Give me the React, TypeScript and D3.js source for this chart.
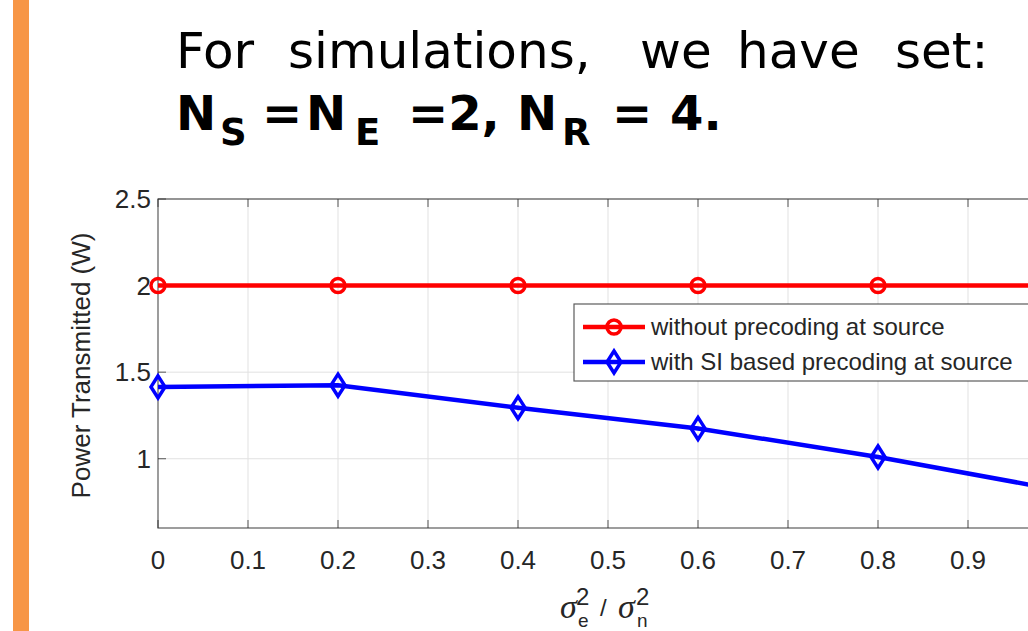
import React, { useEffect, useRef } from 'react';
import * as d3 from 'd3';

// values
const xValues = [0, 0.2, 0.4, 0.6, 0.8, 1.0];
const withoutPrecoding = [2, 2, 2, 2, 2, 2];
const withSIPrecoding = [1.415, 1.425, 1.295, 1.175, 1.01, 0.82];
const xTicks = [0, 0.1, 0.2, 0.3, 0.4, 0.5, 0.6, 0.7, 0.8, 0.9, 1];
const yTicks = [1, 1.5, 2, 2.5];
const seriesNames = ['without precoding at source', 'with SI based precoding at source'];

const W = 1028;
const H = 631;

const Chart = () => {
  const ref = useRef<SVGSVGElement>(null);

  useEffect(() => {
    const svg = d3.select(ref.current);
    svg.selectAll('*').remove();
    svg.attr('width', W).attr('height', H);

    svg.append('rect').attr('width', W).attr('height', H).attr('fill', '#fff');

    // orange slide bar
    svg.append('rect').attr('x', 13).attr('y', 0).attr('width', 16).attr('height', H).attr('fill', '#f79646');

    // slide text, words spread like the justified original
    const slideFont = 'DejaVu Sans, Verdana, sans-serif';
    const words: [string, number][] = [['For', 176], ['simulations,', 288], ['we', 640], ['have', 737], ['set:', 895]];
    const t1 = svg.append('text').attr('y', 68)
      .style('font-family', slideFont).style('font-size', '50px').attr('fill', '#000');
    words.forEach(([w, wx]) => t1.append('tspan').attr('x', wx).text(w));

    const t2 = svg.append('text')
      .style('font-family', slideFont)
      .style('font-weight', 'bold')
      .attr('fill', '#000');
    const parts: [string, number, boolean][] = [
      ['N', 176, false], ['S', 220, true], ['=', 262, false], ['N', 306, false], ['E', 355, true],
      ['=2,', 408, false], ['N', 517, false], ['R', 562, true], ['=', 612, false], ['4.', 670, false],
    ];
    parts.forEach(([s, px, sub]) => {
      t2.append('tspan')
        .attr('x', px)
        .attr('y', sub ? 145 : 130)
        .style('font-size', sub ? '37px' : '48px')
        .text(s);
    });

    const left = 158;
    const top = 199;
    const bottom = 528;
    const x = d3.scaleLinear().domain([0, 1]).range([left, left + 900]);
    const y = d3.scaleLinear().domain([0.6, 2.5]).range([bottom, top]);
    const axisColor = '#262626';
    const font = 'Liberation Sans, Arial, Helvetica, sans-serif';

    const g = svg.append('g');
    g.append('rect').attr('x', left).attr('y', top).attr('width', 900).attr('height', bottom - top).attr('fill', '#fff');

    // grid
    g.selectAll('.vgrid').data(xTicks.slice(1)).enter().append('line')
      .attr('x1', (d) => x(d)).attr('x2', (d) => x(d))
      .attr('y1', top).attr('y2', bottom)
      .attr('stroke', '#e1e1e1').attr('stroke-width', 1);
    g.selectAll('.hgrid').data(yTicks).enter().append('line')
      .attr('x1', left).attr('x2', left + 900)
      .attr('y1', (d) => y(d)).attr('y2', (d) => y(d))
      .attr('stroke', '#e1e1e1').attr('stroke-width', 1);

    // axes box + inward ticks
    g.append('rect').attr('x', left).attr('y', top).attr('width', 900).attr('height', bottom - top)
      .attr('fill', 'none').attr('stroke', axisColor).attr('stroke-width', 1.2).attr('stroke-opacity', 0.75);
    xTicks.forEach((t) => {
      g.append('line').attr('x1', x(t)).attr('x2', x(t)).attr('y1', bottom).attr('y2', bottom - 8).attr('stroke', axisColor).attr('stroke-opacity', 0.75);
      g.append('line').attr('x1', x(t)).attr('x2', x(t)).attr('y1', top).attr('y2', top + 8).attr('stroke', axisColor).attr('stroke-opacity', 0.75);
    });
    yTicks.forEach((t) => {
      g.append('line').attr('x1', left).attr('x2', left + 8).attr('y1', y(t)).attr('y2', y(t)).attr('stroke', axisColor).attr('stroke-opacity', 0.75);
    });

    // tick labels (the 1 label lies past the visible crop)
    g.selectAll('.xl').data(xTicks.filter((t) => x(t) < W - 20)).enter().append('text')
      .attr('x', (d) => x(d)).attr('y', 569)
      .attr('text-anchor', 'middle')
      .style('font-family', font).style('font-size', '26px')
      .attr('fill', axisColor)
      .text((d) => String(d));
    g.selectAll('.yl').data(yTicks).enter().append('text')
      .attr('x', 151).attr('y', (d) => y(d) + 9)
      .attr('text-anchor', 'end')
      .style('font-family', font).style('font-size', '26px')
      .attr('fill', axisColor)
      .text((d) => String(d));

    // axis labels
    g.append('text')
      .attr('transform', `translate(90,${(top + bottom) / 2 + 2}) rotate(-90)`)
      .attr('text-anchor', 'middle')
      .style('font-family', font).style('font-size', '26px')
      .attr('fill', axisColor)
      .text('Power Transmitted (W)');

    const xlab = g.append('g').attr('fill', axisColor).style('font-family', font);
    const sig = (sx: number) => xlab.append('text').attr('x', sx).attr('y', 618)
      .style('font-family', 'Liberation Serif, serif').style('font-style', 'italic').style('font-size', '34px').text('σ');
    sig(560);
    sig(618);
    xlab.append('text').attr('x', 576).attr('y', 605).style('font-size', '24px').text('2');
    xlab.append('text').attr('x', 636).attr('y', 605).style('font-size', '24px').text('2');
    xlab.append('text').attr('x', 578).attr('y', 627).style('font-size', '19px').text('e');
    xlab.append('text').attr('x', 637).attr('y', 627).style('font-size', '19px').text('n');
    xlab.append('text').attr('x', 600).attr('y', 616).style('font-size', '24px').text('/');

    // series
    const line = d3.line<number>().x((_, i) => x(xValues[i])).y((d) => y(d));
    const diamond = (cx: number, cy: number, w = 7, h = 11) =>
      `M${cx},${cy - h}L${cx + w},${cy}L${cx},${cy + h}L${cx - w},${cy}Z`;

    g.append('path').datum(withoutPrecoding).attr('d', line)
      .attr('fill', 'none').attr('stroke', '#ff0000').attr('stroke-width', 4.5);
    g.selectAll('.circ').data(withoutPrecoding).enter().append('circle')
      .attr('cx', (_, i) => x(xValues[i])).attr('cy', (d) => y(d)).attr('r', 7)
      .attr('fill', 'none').attr('stroke', '#ff0000').attr('stroke-width', 3.5);

    g.append('path').datum(withSIPrecoding).attr('d', line)
      .attr('fill', 'none').attr('stroke', '#0000ff').attr('stroke-width', 4.5);
    g.selectAll('.dia').data(withSIPrecoding).enter().append('path')
      .attr('d', (d, i) => diamond(x(xValues[i]), y(d)))
      .attr('fill', 'none').attr('stroke', '#0000ff').attr('stroke-width', 3.5);

    // legend
    const lg = g.append('g');
    lg.append('rect').attr('x', 574).attr('y', 304).attr('width', 480).attr('height', 77)
      .attr('fill', '#fff').attr('stroke', axisColor).attr('stroke-opacity', 0.75).attr('stroke-width', 1.2);
    const colors = ['#ff0000', '#0000ff'];
    seriesNames.forEach((name, i) => {
      const ly = 327 + i * 35;
      lg.append('line').attr('x1', 583).attr('x2', 645).attr('y1', ly).attr('y2', ly)
        .attr('stroke', colors[i]).attr('stroke-width', 4.5);
      if (i === 0) {
        lg.append('circle').attr('cx', 614).attr('cy', ly).attr('r', 7)
          .attr('fill', 'none').attr('stroke', colors[i]).attr('stroke-width', 3.5);
      } else {
        lg.append('path').attr('d', diamond(614, ly))
          .attr('fill', 'none').attr('stroke', colors[i]).attr('stroke-width', 3.5);
      }
      lg.append('text').attr('x', 651).attr('y', ly + 8)
        .style('font-family', font).style('font-size', '24px')
        .attr('fill', axisColor)
        .text(name);
    });
  }, []);

  return <svg ref={ref} style={{ position: 'absolute', left: 0, top: 0, display: 'block' }}></svg>;
};

export default function App() {
  return <Chart />;
}
